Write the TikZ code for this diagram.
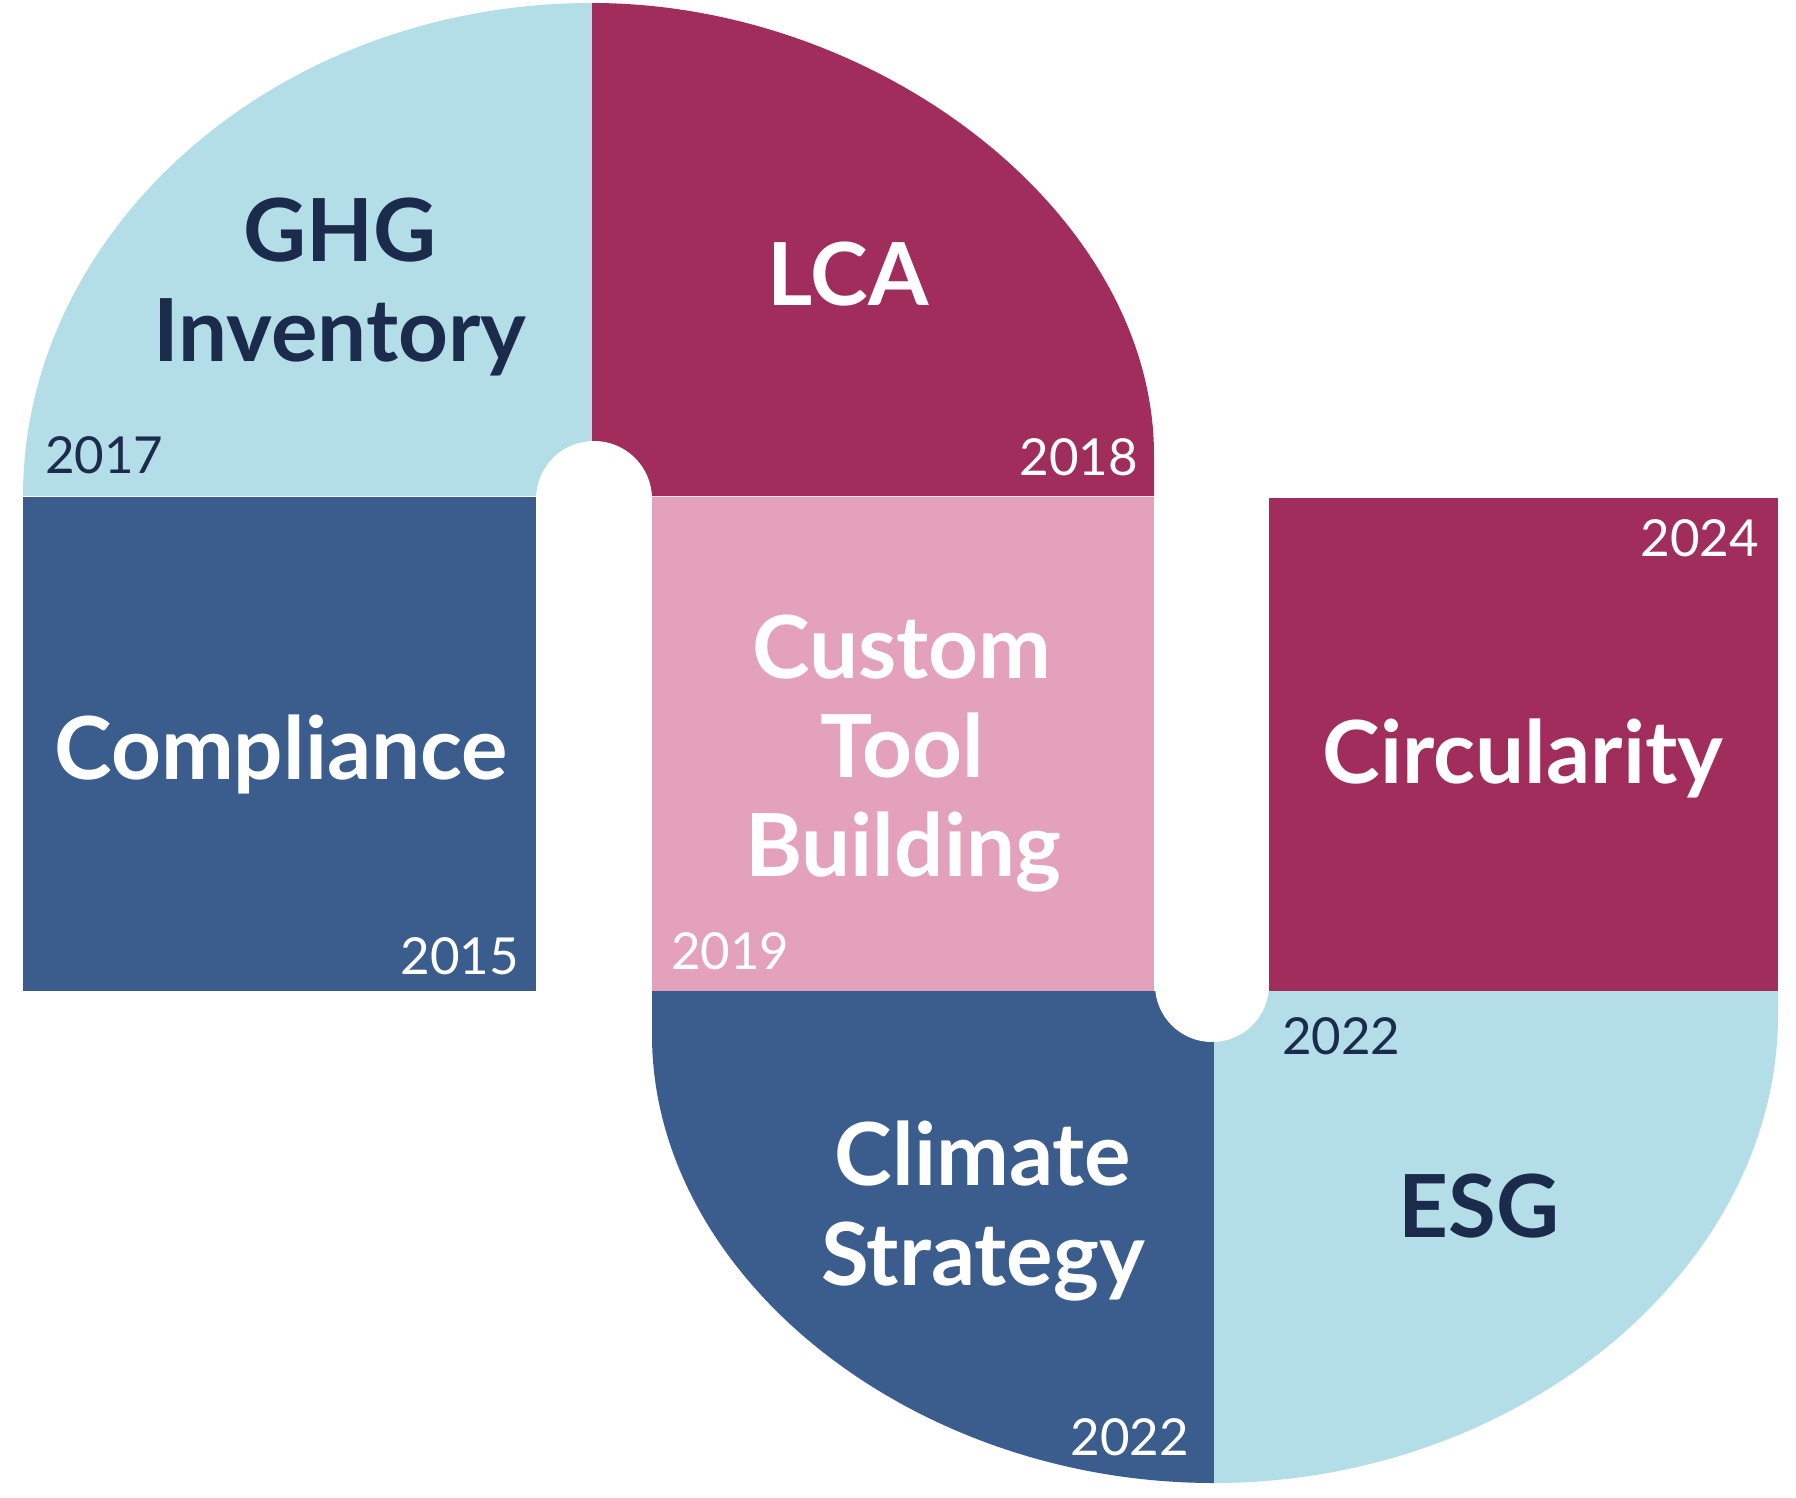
\documentclass[tikz,border=0pt]{standalone}
\usepackage{fontspec}
\setmainfont{Lato}
\definecolor{lblue}{HTML}{B3DDE7}
\definecolor{crimson}{HTML}{A12D5D}
\definecolor{dblue}{HTML}{3A5D8D}
\definecolor{pinkc}{HTML}{E4A1BC}
\definecolor{navytxt}{HTML}{1B2B4B}
\tikzset{
  title/.style={inner sep=0pt,outer sep=0pt,anchor=base,font=\fontsize{87}{100}\selectfont\bfseries},
  yearl/.style={inner sep=0pt,outer sep=0pt,anchor=base west,font=\fontsize{51}{60}\selectfont},
  yearr/.style={inner sep=0pt,outer sep=0pt,anchor=base east,font=\fontsize{51}{60}\selectfont},
}
\begin{document}
\begin{tikzpicture}[x=1pt,y=-1pt]
\useasboundingbox (0,0) rectangle (1796,1498);
% top half
\fill[lblue] (592,496) -- (23,496) .. controls (23,230) and (275,3) .. (592,3) -- cycle;
\fill[crimson] (592,3) .. controls (880,3) and (1154,215) .. (1154,455) -- (1154,496) -- (592,496) -- cycle;
% middle row
\fill[dblue] (23,497) rectangle (536,991);
\fill[pinkc] (652,497) rectangle (1154,991);
\fill[crimson] (1269,498) rectangle (1778,991);
% bottom half
\fill[dblue] (652,991) -- (1214,991) -- (1214,1483) .. controls (910,1483) and (652,1275) .. (652,1035) -- cycle;
\fill[lblue] (1214,991) -- (1778,991) -- (1778,1015) .. controls (1778,1268) and (1520,1483) .. (1214,1483) -- cycle;
% notches
\fill[white] (594,499) circle[radius=58pt];
\fill[white] (536,499) rectangle (652,520);
\fill[white] (1212,985) circle[radius=57pt];
\fill[white] (1155,960) rectangle (1269,985);
% titles
\node[title,text=navytxt] (ghg) at (340,261) {GHG};
\node[title,text=navytxt] (inv) at (340,361) {Inventory};
\node[title,text=white] (lca) at (848,305) {LCA};
\node[title,text=white] (comp) at (281,779) {Compliance};
\node[title,text=white] (cust) at (902,678) {Custom};
\node[title,text=white] (tool) at (902,777) {Tool};
\node[title,text=white] (build) at (903,876) {Building};
\node[title,text=white] (circ) at (1523,783) {Circularity};
\node[title,text=white] (clim) at (983,1185) {Climate};
\node[title,text=white] (strat) at (983,1285) {Strategy};
\node[title,text=navytxt] (esg) at (1479,1237) {ESG};
% years
\node[yearl,text=navytxt] (y17) at (45,473) {2017};
\node[yearr,text=white] (y18) at (1138,475) {2018};
\node[yearr,text=white] (y15) at (519,974) {2015};
\node[yearl,text=white] (y19) at (671,969) {2019};
\node[yearr,text=white] (y24) at (1759,556) {2024};
\node[yearl,text=navytxt] (y22a) at (1282,1054) {2022};
\node[yearr,text=white] (y22b) at (1189,1455) {2022};
\end{tikzpicture}
\end{document}
